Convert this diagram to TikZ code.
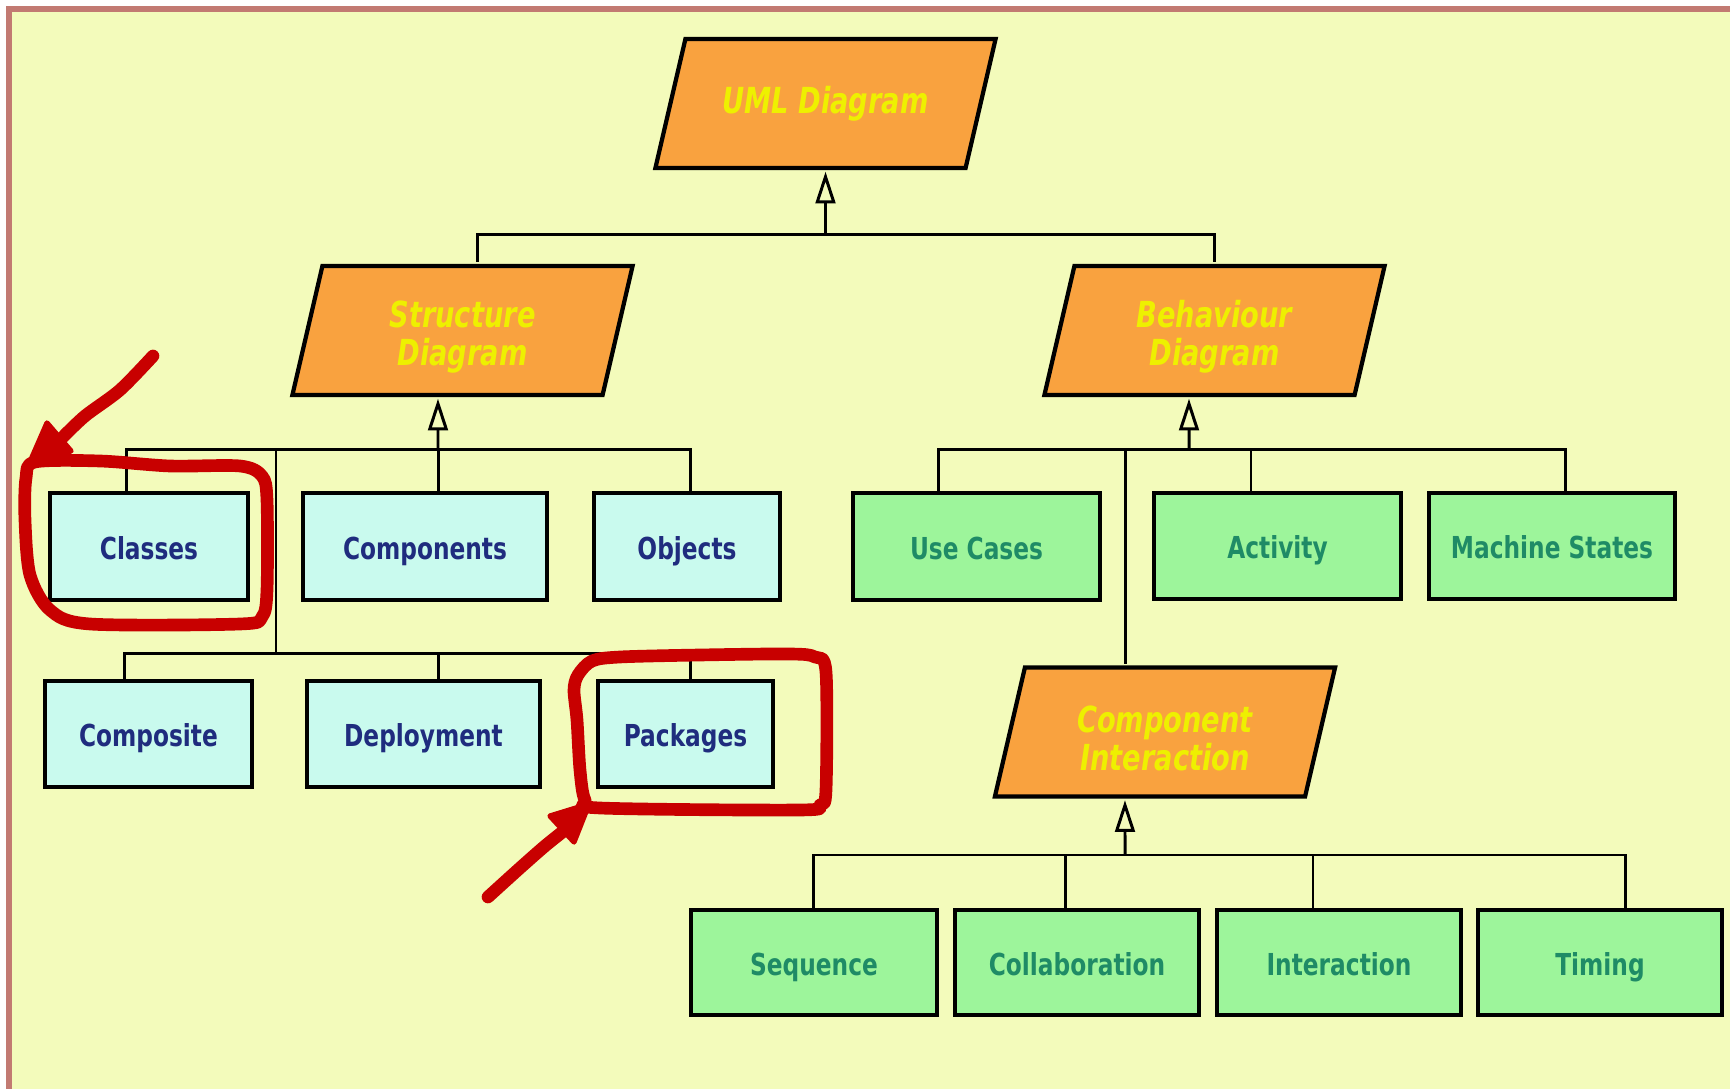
\documentclass[tikz,border=0pt]{standalone}
\usepackage{fontspec}
\usetikzlibrary{arrows.meta}
\newfontfamily\boxfam{DejaVu Sans Bold}[FakeStretch=0.77]
\newfontfamily\parafam{DejaVu Sans Bold Oblique}[FakeStretch=0.76]
\definecolor{bgcol}{HTML}{F3FBBB}
\definecolor{bordercol}{HTML}{C27A72}
\definecolor{orangecol}{HTML}{F9A23F}
\definecolor{ptext}{HTML}{EEF000}
\definecolor{cyanbox}{HTML}{C9FAEE}
\definecolor{navytext}{HTML}{1F2C7E}
\definecolor{greenbox}{HTML}{9DF59B}
\definecolor{greentext}{HTML}{1F8B66}
\definecolor{annored}{HTML}{C80000}
\newcommand\toppad{\rule{0pt}{1.1em}}
\tikzset{
  box/.style={draw=black, line width=1pt, inner sep=0pt, text height=0.9em, text depth=0.17em,
    font=\boxfam\fontsize{8.6}{10}\selectfont},
  sbox/.style={box, fill=cyanbox, text=navytext},
  bbox/.style={box, fill=greenbox, text=greentext},
  para/.style={minimum width=3.46cm, minimum height=1.35cm, inner sep=0pt, fill=bgcol,
    text=ptext, align=center, font=\parafam\fontsize{10.2}{11}\selectfont,
    path picture={\filldraw[fill=orangecol, draw=black, line width=1.2pt]
      ([shift={(0.33cm,-0.03cm)}]path picture bounding box.north west) --
      ([shift={(-0.03cm,-0.03cm)}]path picture bounding box.north east) --
      ([shift={(-0.33cm,0.03cm)}]path picture bounding box.south east) --
      ([shift={(0.03cm,0.03cm)}]path picture bounding box.south west) -- cycle;}},
  conn/.style={draw=black, line width=0.85pt},
  gen/.style={conn, -{Triangle[length=9pt,width=5.6pt,fill=bgcol]}},
  anno/.style={draw=annored, line width=3.6pt, line cap=round, line join=round},
  annotip/.style={fill=annored, draw=annored, line width=1.5pt, line join=round}
}
\begin{document}
\begin{tikzpicture}[x=0.01cm, y=-0.01cm]
\useasboundingbox (0,0) rectangle (1730,1089);
\fill[white] (0,0) rectangle (1730,1089);
\fill[bordercol] (6,6) rectangle (1730,1089);
\fill[bgcol] (12,12) rectangle (1730,1089);

% parallelograms
\node[para] (uml) at (825.5,103.5) {UML Diagram};
\node[para] (struct) at (462.5,330.5) {\toppad Structure\\Diagram};
\node[para] (behav) at (1214.5,330.5) {\toppad Behaviour\\Diagram};
\node[para] (ci) at (1165,732) {\toppad Component\\Interaction};

% structure boxes
\node[sbox, minimum width=1.98cm, minimum height=1.07cm] (cls) at (149,546.5) {Classes};
\node[sbox, minimum width=2.44cm, minimum height=1.07cm] (comp) at (425,546.5) {Components};
\node[sbox, minimum width=1.86cm, minimum height=1.07cm] (obj) at (687,546.5) {Objects};
\node[sbox, minimum width=2.07cm, minimum height=1.06cm] (compo) at (148.5,734) {Composite};
\node[sbox, minimum width=2.33cm, minimum height=1.06cm] (depl) at (423.5,734) {Deployment};
\node[sbox, minimum width=1.75cm, minimum height=1.06cm] (pack) at (685.5,734) {Packages};

% behaviour boxes
\node[bbox, minimum width=2.47cm, minimum height=1.07cm] (use) at (976.5,546.5) {Use Cases};
\node[bbox, minimum width=2.47cm, minimum height=1.06cm] (act) at (1277.5,546) {Activity};
\node[bbox, minimum width=2.46cm, minimum height=1.06cm] (mach) at (1552,546) {Machine States};
\node[bbox, minimum width=2.46cm, minimum height=1.05cm] (seq) at (814,962.5) {Sequence};
\node[bbox, minimum width=2.44cm, minimum height=1.05cm] (coll) at (1077,962.5) {Collaboration};
\node[bbox, minimum width=2.44cm, minimum height=1.05cm] (inter) at (1339,962.5) {Interaction};
\node[bbox, minimum width=2.44cm, minimum height=1.05cm] (tim) at (1600,962.5) {Timing};

% junctions
\coordinate (j0) at (825.5,235);
\coordinate (j1) at (438,450);
\coordinate (j1b) at (276,450);
\coordinate (j2) at (276,654);
\coordinate (j3) at (1189,450);
\coordinate (j4) at (1125,855);

% top level
\draw[conn] ([xshift=0.145cm]struct.north) |- (j0) -| (behav.north);
\draw[gen] (j0) -- (uml.south);

% structure group
\draw[conn] ([xshift=-0.22cm]cls.north) |- (j1) -| ([xshift=0.03cm]obj.north);
\draw[conn] ([xshift=0.13cm]comp.north) |- (j1);
\draw[gen] (j1) -- ([xshift=-0.245cm]struct.south);
\draw[conn] (j1b) -- (j2);
\draw[conn] ([xshift=-0.235cm]compo.north) |- (j2) -| ([xshift=0.045cm]pack.north);
\draw[conn] ([xshift=0.145cm]depl.north) |- (j2);

% behaviour group
\draw[conn] ([xshift=-0.375cm]use.north) |- (j3) -| ([xshift=0.13cm]mach.north);
\draw[conn] ([xshift=-0.265cm]act.north) |- (j3);
\draw[conn] ([xshift=-0.39cm]ci.north) |- (j3);
\draw[gen] (j3) -- ([xshift=-0.255cm]behav.south);

% component interaction group
\draw[conn] ([xshift=-0.01cm]seq.north) |- (j4) -| ([xshift=0.25cm]tim.north);
\draw[conn] ([xshift=-0.12cm]coll.north) |- (j4);
\draw[conn] ([xshift=-0.26cm]inter.north) |- (j4);
\draw[gen] (j4) -- ([xshift=-0.40cm]ci.south);

% red annotations
\draw[anno] plot[smooth cycle, tension=0.5] coordinates {(35,462) (100,461) (170,466) (240,466) (262,476) (267,500) (267,590) (262,617) (240,624) (90,624) (50,610) (30,575) (25,520) (26,478)};
\draw[anno] plot[smooth, tension=0.5] coordinates {(153,356) (120,390) (85,416) (62,438)};
\filldraw[annotip] (30,462) -- (47,423) -- (71,451) -- cycle;

\draw[anno] plot[smooth cycle, tension=0.5] coordinates {(578,675) (592,661) (620,657) (700,655) (790,654) (815,657) (826,672) (826,790) (820,805) (800,810) (600,808) (585,800) (580,770) (577,720) (574,690)};
\draw[anno] plot[smooth, tension=0.5] coordinates {(488,897) (520,868) (545,846) (565,830)};
\filldraw[annotip] (589,804) -- (550,816) -- (574,842) -- cycle;
\end{tikzpicture}
\end{document}
